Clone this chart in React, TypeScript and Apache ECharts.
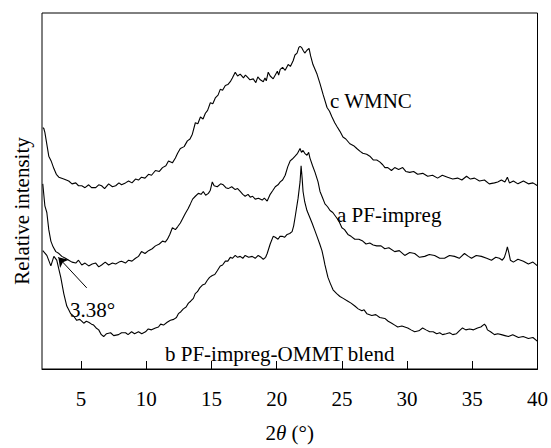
import React, { useEffect, useRef } from "react";
import * as echarts from "echarts";

// 2θ ticks
const xTicks = [5, 10, 15, 20, 25, 30, 35, 40];

// c WMNC  [2θ, relative intensity]
const curveC: [number, number][] = [
  [2.06, 253], [2.14, 252], [2.22, 248], [2.52, 223], [2.7, 218], [2.91, 210], [3.1, 204], [3.29, 201], [3.67, 199],
  [4.05, 197], [4.3, 194], [4.59, 195], [4.8, 192], [5.05, 192], [5.3, 190], [5.58, 193], [5.8, 190], [6.12, 190], [6.35, 193], [6.57, 192], [6.8, 189], [7.11, 194],
  [7.4, 191], [7.65, 192], [7.9, 195], [8.1, 193], [8.4, 195], [8.64, 197], [8.9, 195], [9.17, 199], [9.4, 198], [9.63, 201], [9.9, 200], [10.17, 204], [10.4, 203], [10.7, 208],
  [11.0, 207], [11.24, 211], [11.5, 213], [11.7, 218], [12.0, 216], [12.23, 221], [12.4, 226], [12.61, 231], [12.9, 233], [13.15, 239], [13.35, 241], [13.53, 246],
  [13.76, 258], [13.95, 257], [14.15, 264], [14.35, 262], [14.53, 268], [14.7, 271], [14.91, 279], [15.1, 278], [15.29, 284], [15.5, 287], [15.67, 293],
  [15.85, 292], [16.06, 297], [16.25, 298], [16.44, 301], [16.6, 305], [16.82, 311], [17.0, 307], [17.2, 309], [17.45, 305], [17.6, 308], [17.74, 306], [17.95, 303], [18.2, 304],
  [18.4, 300], [18.55, 306], [18.74, 303], [18.97, 301], [19.1, 305], [19.2, 302], [19.35, 311], [19.5, 307], [19.73, 304], [19.89, 308], [20.05, 312], [20.15, 308], [20.27, 314],
  [20.45, 316], [20.65, 313], [20.88, 319], [21.05, 317], [21.26, 323], [21.4, 329], [21.56, 331], [21.7, 337], [21.79, 338], [21.9, 337], [22.02, 334],
  [22.15, 331], [22.32, 334], [22.48, 336], [22.6, 328], [22.78, 319], [23.09, 309], [23.32, 299], [23.55, 288],
  [23.86, 274], [24.05, 270], [24.24, 264], [24.45, 258], [24.62, 254], [24.85, 249], [25.08, 243], [25.3, 241], [25.61, 236], [25.9, 234], [26.14, 231],
  [26.4, 228], [26.6, 226], [26.9, 225], [27.14, 223], [27.4, 219], [27.67, 219], [27.9, 217], [28.13, 214], [28.3, 211], [28.52, 211], [28.8, 208], [29.05, 211],
  [29.35, 209], [29.66, 211], [29.9, 207], [30.2, 206], [30.5, 207], [30.81, 204], [31.2, 205], [31.58, 202], [31.95, 203], [32.34, 200], [32.7, 203], [33.1, 201],
  [33.5, 199], [33.87, 200], [34.2, 198], [34.56, 202], [34.85, 199], [35.17, 200], [35.55, 197], [35.93, 198], [36.3, 194], [36.7, 195], [36.95, 196], [37.23, 198],
  [37.5, 196], [37.69, 201], [37.85, 195], [38.15, 197], [38.5, 194], [38.92, 197], [39.3, 194], [39.65, 195], [40, 192],
];

// a PF-impreg
const curveA: [number, number][] = [
  [2.06, 194], [2.22, 171], [2.37, 164], [2.52, 146], [2.68, 134], [2.85, 128], [3.06, 123], [3.3, 121], [3.52, 118],
  [3.8, 116], [4.05, 114], [4.3, 112], [4.59, 111], [4.8, 114], [5.05, 109], [5.3, 111], [5.58, 108], [5.85, 110], [6.12, 111], [6.35, 107], [6.57, 109], [6.85, 112], [7.11, 109],
  [7.4, 111], [7.65, 110], [7.9, 112], [8.1, 113], [8.4, 111], [8.64, 114], [8.9, 113], [9.17, 116], [9.4, 118], [9.63, 123], [9.9, 121], [10.17, 124], [10.45, 126], [10.7, 129],
  [11.0, 131], [11.24, 134], [11.45, 133], [11.62, 136], [11.8, 141], [12.0, 148], [12.23, 146], [12.4, 149], [12.61, 153], [12.8, 158], [12.99, 163],
  [13.2, 168], [13.38, 173], [13.55, 178], [13.76, 181], [13.99, 184], [14.2, 183], [14.37, 186], [14.55, 182], [14.76, 184], [14.9, 187], [15.06, 196],
  [15.2, 192], [15.44, 191], [15.7, 194], [15.9, 193], [16.1, 190], [16.28, 189], [16.55, 191], [16.82, 188], [17.0, 189], [17.2, 186], [17.4, 183], [17.58, 181],
  [17.8, 183], [17.97, 180], [18.15, 181], [18.35, 178], [18.6, 179], [18.89, 177], [19.05, 179], [19.27, 176], [19.5, 183], [19.7, 187], [19.89, 191],
  [20.1, 193], [20.27, 196], [20.45, 198], [20.65, 203], [20.85, 212], [21.03, 218], [21.2, 220], [21.41, 223], [21.6, 226], [21.79, 231], [21.9, 227], [22.02, 229],
  [22.15, 226], [22.32, 224], [22.45, 227], [22.55, 221], [22.75, 213], [22.94, 206], [23.17, 196], [23.32, 186], [23.5, 180], [23.7, 173],
  [23.9, 170], [24.09, 166], [24.3, 164], [24.62, 158], [24.8, 154], [25.0, 148], [25.2, 146], [25.46, 141], [25.7, 139], [25.99, 136], [26.3, 136], [26.6, 134],
  [26.85, 131], [27.14, 132], [27.4, 130], [27.67, 129], [28.0, 129], [28.29, 126], [28.6, 127], [29.05, 123], [29.4, 124], [29.82, 119], [30.2, 122], [30.58, 121],
  [30.95, 117], [31.35, 118], [31.7, 120], [32.11, 119], [32.5, 116], [32.87, 116], [33.25, 119], [33.64, 118], [34.0, 116], [34.4, 121], [34.7, 118], [34.94, 116],
  [35.3, 119], [35.7, 118], [36.1, 116], [36.47, 114], [36.8, 117], [37.08, 116], [37.3, 114], [37.46, 117], [37.6, 123], [37.69, 128], [37.8, 122], [37.92, 114],
  [38.15, 112], [38.5, 115], [38.92, 113], [39.3, 110], [39.65, 112], [40, 108],
];

// b PF-impreg-OMMT blend
const curveB: [number, number][] = [
  [2.06, 124], [2.37, 119], [2.68, 108], [2.91, 118], [3.13, 114], [3.44, 96], [3.67, 79],
  [3.9, 66], [4.05, 62], [4.2, 58], [4.45, 55], [4.66, 51], [4.9, 52], [5.2, 48], [5.4, 50], [5.58, 49], [5.8, 47], [5.96, 46], [6.15, 43], [6.35, 41], [6.55, 36], [6.73, 34],
  [6.95, 37], [7.26, 38], [7.5, 35], [7.87, 36], [8.1, 38], [8.41, 38], [8.6, 36], [8.87, 39], [9.1, 37], [9.4, 39], [9.65, 37], [9.94, 39], [10.15, 42], [10.4, 41],
  [10.7, 43], [10.93, 44], [11.1, 47], [11.32, 46], [11.6, 49], [11.85, 51], [12.1, 52], [12.31, 54], [12.46, 58], [12.65, 60], [12.84, 63], [13.05, 65], [13.23, 69], [13.4, 71], [13.61, 74],
  [13.75, 79], [13.92, 81], [14.1, 85], [14.3, 88], [14.5, 89], [14.68, 93], [14.85, 96], [15.06, 98], [15.25, 99], [15.44, 103], [15.67, 108], [15.85, 109], [16.06, 113],
  [16.25, 113], [16.44, 117], [16.6, 116], [16.82, 119], [17.0, 117], [17.2, 118], [17.4, 116], [17.58, 119], [17.85, 117], [18.12, 118], [18.35, 116], [18.58, 119],
  [18.8, 117], [18.97, 115], [19.15, 117], [19.27, 121], [19.5, 131], [19.73, 139], [19.89, 138], [20.1, 136], [20.25, 139], [20.42, 139], [20.6, 138],
  [20.8, 141], [21.0, 142], [21.18, 144], [21.3, 150], [21.41, 159], [21.64, 179], [21.79, 196], [21.87, 213], [21.95, 200],
  [22.02, 186], [22.15, 175], [22.32, 166], [22.5, 160], [22.71, 153], [22.9, 146], [23.09, 139], [23.3, 131], [23.47, 124], [23.6, 116], [23.7, 109],
  [23.93, 96], [24.1, 90], [24.32, 83], [24.6, 79], [24.85, 76], [25.1, 74], [25.46, 71], [25.7, 69], [25.99, 66], [26.25, 63], [26.53, 61], [26.7, 62], [26.91, 58],
  [27.29, 56], [27.6, 57], [27.9, 54], [28.29, 53], [28.55, 50], [28.82, 48], [29.05, 46], [29.28, 44], [29.6, 45], [30.05, 43], [30.3, 41], [30.58, 39], [30.9, 40], [31.19, 43],
  [31.45, 41], [31.73, 39], [32.0, 39], [32.27, 37], [32.5, 38], [32.72, 36], [33.0, 37], [33.26, 38], [33.5, 36], [33.79, 37], [34.0, 40], [34.25, 43], [34.5, 41], [34.79, 42],
  [35.1, 41], [35.4, 43], [35.65, 44], [35.93, 47], [36.05, 45], [36.16, 41], [36.4, 39], [36.7, 36], [36.95, 37], [37.23, 36], [37.5, 35], [37.77, 34], [38.1, 36], [38.54, 33],
  [38.9, 34], [39.3, 32], [39.65, 33], [40, 29],
];

// annotation arrow for the 3.38° reflection: [from, to]
const arrowFrom: [number, number] = [5.43, 85];
const arrowTo: [number, number] = [3.25, 117];

const FONT = "Liberation Serif";
const FS = 21;

export default function App() {
  const ref = useRef<HTMLDivElement>(null);
  useEffect(() => {
    if (!ref.current) return;
    const chart = echarts.init(ref.current, undefined, { renderer: "svg" });
    const lineSeries = (name: string, data: [number, number][]) => ({
      name,
      type: "line",
      data,
      showSymbol: false,
      symbol: "none",
      smooth: false,
      lineStyle: { color: "#000", width: 1.1 },
      z: 3,
    });
    const txt = (text: string, x: number, y: number) => ({
      type: "text",
      x,
      y,
      style: {
        text,
        fontSize: FS,
        fontFamily: FONT,
        fill: "#000",
        textAlign: "left",
        textVerticalAlign: "middle",
        align: "left",
        verticalAlign: "middle",
      },
      z: 10,
    });
    chart.setOption({
      animation: false,
      backgroundColor: "#fff",
      textStyle: { fontFamily: FONT },
      grid: {
        left: 42,
        right: 13,
        top: 13,
        bottom: 62,
        show: true,
        borderColor: "#000",
        borderWidth: 1,
      },
      xAxis: {
        type: "value",
        min: 2,
        max: 40,
        axisLine: { show: true, lineStyle: { color: "#000", width: 1 } },
        axisTick: {
          show: true,
          inside: true,
          length: 8,
          customValues: xTicks,
          lineStyle: { color: "#000", width: 1 },
        },
        axisLabel: {
          customValues: xTicks,
          margin: 19,
          fontSize: FS,
          fontFamily: FONT,
          color: "#000",
        },
        splitLine: { show: false },
        name: "2{i|θ} (°)",
        nameLocation: "middle",
        nameGap: 53,
        nameTextStyle: {
          fontSize: FS,
          fontFamily: FONT,
          color: "#000",
          rich: {
            i: { fontSize: FS, fontFamily: FONT, fontStyle: "italic", color: "#000" },
          },
        },
      },
      yAxis: { type: "value", min: 0, max: 373, show: false },
      series: [
        lineSeries("c WMNC", curveC),
        lineSeries("a PF-impreg", curveA),
        lineSeries("b PF-impreg-OMMT blend", curveB),
        {
          type: "lines",
          coordinateSystem: "cartesian2d",
          symbol: ["none", "arrow"],
          symbolSize: [6, 9],
          lineStyle: { color: "#000", width: 1, opacity: 1 },
          data: [{ coords: [arrowFrom, arrowTo] }],
          z: 4,
        },
      ],
      graphic: [
        txt("c WMNC", 330, 101),
        txt("a PF-impreg", 337, 215),
        txt("b PF-impreg-OMMT blend", 165, 354),
        txt("3.38°", 70, 310),
        {
          type: "text",
          x: 22,
          y: 211,
          rotation: Math.PI / 2,
          style: {
            text: "Relative intensity",
            fontSize: FS,
            fontFamily: FONT,
            fill: "#000",
            textAlign: "center",
            textVerticalAlign: "middle",
            align: "center",
            verticalAlign: "middle",
          },
        },
      ],
    });
    return () => chart.dispose();
  }, []);
  return <div ref={ref} style={{ width: 551, height: 448, position: "absolute", left: 0, top: 0 }} />;
}
